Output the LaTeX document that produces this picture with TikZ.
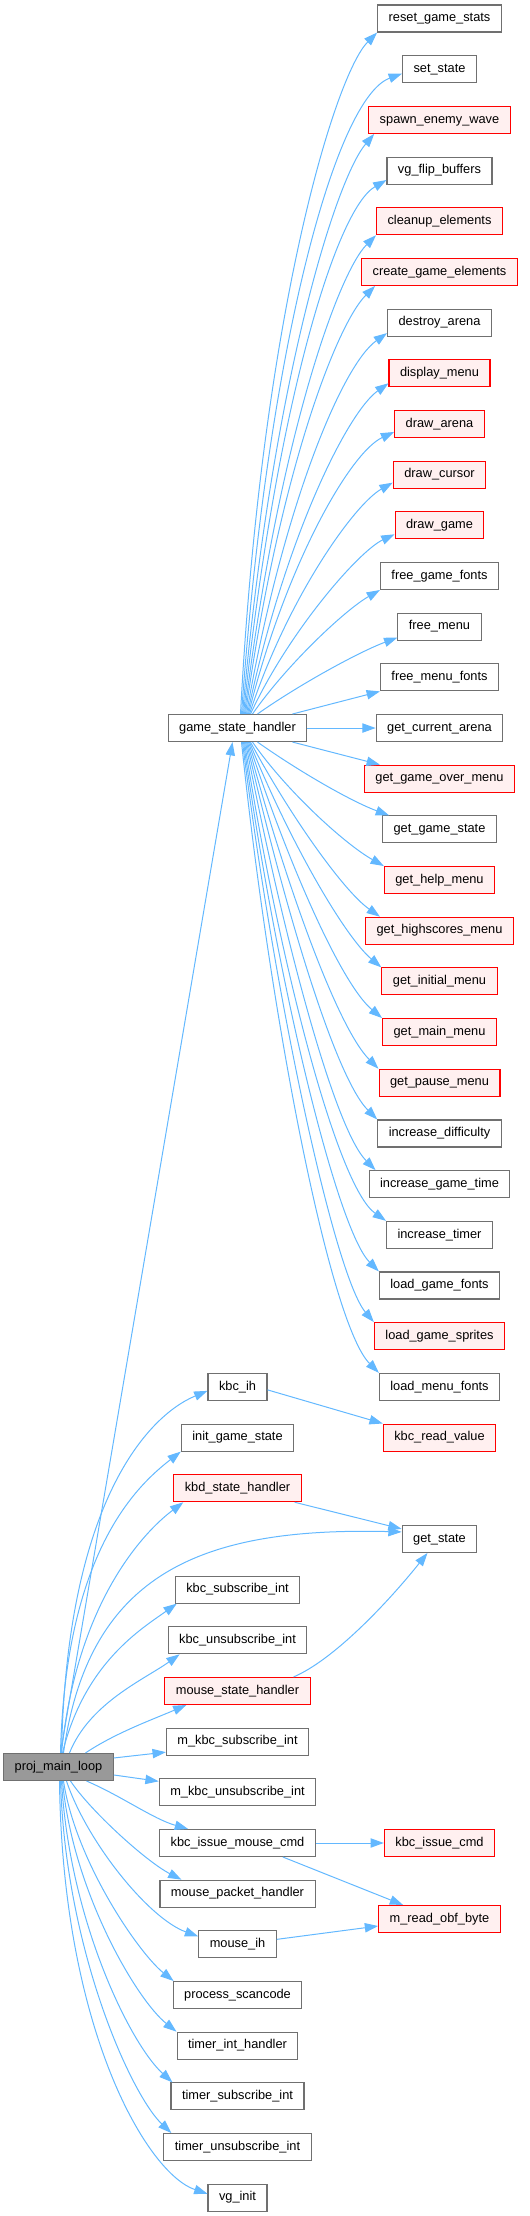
\documentclass[tikz,border=0pt]{standalone}
\usepackage{fontspec}
\setmainfont{Liberation Sans}
\usetikzlibrary{arrows.meta,calc}
\definecolor{edgec}{HTML}{63B8FF}
\definecolor{gborder}{HTML}{707070}
\definecolor{rfill}{HTML}{FFF0F0}
\definecolor{mfill}{HTML}{999999}
\newcommand{\yk}[1]{-18.5-50.68*#1}
\begin{document}
\begin{tikzpicture}[x=0.75pt,y=0.75pt,
  base/.style={rectangle, minimum height=20.25pt, inner xsep=8.25pt, inner ysep=0pt,
    text height=7pt, text depth=2.2pt, font=\fontsize{9.6}{11}\selectfont, line width=0.8pt},
  gbox/.style={base, draw=gborder, fill=white},
  rbox/.style={base, draw=red, fill=rfill},
  mbox/.style={base, draw=gborder, fill=mfill},
  conn/.style={draw=edgec, line width=0.75pt, -{Triangle[length=10pt,width=7pt]}}]
\useasboundingbox (0,0) rectangle (530,-2216);

% right column
\node[gbox] (rgs)  at (439.5,{\yk{0}})  {reset\_game\_stats};
\node[gbox] (ss)   at (439.5,{\yk{1}})  {set\_state};
\node[rbox] (sew)  at (439.5,{\yk{2}})  {spawn\_enemy\_wave};
\node[gbox] (vfb)  at (439.5,{\yk{3}})  {vg\_flip\_buffers};
\node[rbox] (ce)   at (439.5,{\yk{4}})  {cleanup\_elements};
\node[rbox] (cge)  at (439.5,{\yk{5}})  {create\_game\_elements};
\node[gbox] (da)   at (439.5,{\yk{6}})  {destroy\_arena};
\node[rbox] (dm)   at (439.5,{\yk{7}})  {display\_menu};
\node[rbox] (dar)  at (439.5,{\yk{8}})  {draw\_arena};
\node[rbox] (dc)   at (439.5,{\yk{9}})  {draw\_cursor};
\node[rbox] (dg)   at (439.5,{\yk{10}}) {draw\_game};
\node[gbox] (fgf)  at (439.5,{\yk{11}}) {free\_game\_fonts};
\node[gbox] (fm)   at (439.5,{\yk{12}}) {free\_menu};
\node[gbox] (fmf)  at (439.5,{\yk{13}}) {free\_menu\_fonts};
\node[gbox] (gca)  at (439.5,{\yk{14}}) {get\_current\_arena};
\node[rbox] (ggom) at (439.5,{\yk{15}}) {get\_game\_over\_menu};
\node[gbox] (ggs)  at (439.5,{\yk{16}}) {get\_game\_state};
\node[rbox] (ghm)  at (439.5,{\yk{17}}) {get\_help\_menu};
\node[rbox] (ghsm) at (439.5,{\yk{18}}) {get\_highscores\_menu};
\node[rbox] (gim)  at (439.5,{\yk{19}}) {get\_initial\_menu};
\node[rbox] (gmm)  at (439.5,{\yk{20}}) {get\_main\_menu};
\node[rbox] (gpm)  at (439.5,{\yk{21}}) {get\_pause\_menu};
\node[gbox] (id)   at (439.5,{\yk{22}}) {increase\_difficulty};
\node[gbox] (igt)  at (439.5,{\yk{23}}) {increase\_game\_time};
\node[gbox] (it)   at (439.5,{\yk{24}}) {increase\_timer};
\node[gbox] (lgf)  at (439.5,{\yk{25}}) {load\_game\_fonts};
\node[rbox] (lgs)  at (439.5,{\yk{26}}) {load\_game\_sprites};
\node[gbox] (lmf)  at (439.5,{\yk{27}}) {load\_menu\_fonts};
\node[rbox] (krv)  at (439.5,{\yk{28}}) {kbc\_read\_value};
\node[gbox] (gst)  at (439.5,{\yk{30}}) {get\_state};
\node[rbox] (kic)  at (439.5,{\yk{36}}) {kbc\_issue\_cmd};
\node[rbox] (mrob) at (439.5,{\yk{37.5}}) {m\_read\_obf\_byte};

% middle column
\node[gbox] (gsh)  at (237.5,{\yk{14}}) {game\_state\_handler};
\node[gbox] (kih)  at (237.5,{\yk{27}}) {kbc\_ih};
\node[gbox] (igs)  at (237.5,{\yk{28}}) {init\_game\_state};
\node[rbox] (ksh)  at (237.5,{\yk{29}}) {kbd\_state\_handler};
\node[gbox] (ksi)  at (237.5,{\yk{31}}) {kbc\_subscribe\_int};
\node[gbox] (kui)  at (237.5,{\yk{32}}) {kbc\_unsubscribe\_int};
\node[rbox] (msh)  at (237.5,{\yk{33}}) {mouse\_state\_handler};
\node[gbox] (mksi) at (237.5,{\yk{34}}) {m\_kbc\_subscribe\_int};
\node[gbox] (mkui) at (237.5,{\yk{35}}) {m\_kbc\_unsubscribe\_int};
\node[gbox] (kimc) at (237.5,{\yk{36}}) {kbc\_issue\_mouse\_cmd};
\node[gbox] (mph)  at (237.5,{\yk{37}}) {mouse\_packet\_handler};
\node[gbox] (mih)  at (237.5,{\yk{38}}) {mouse\_ih};
\node[gbox] (ps)   at (237.5,{\yk{39}}) {process\_scancode};
\node[gbox] (tih)  at (237.5,{\yk{40}}) {timer\_int\_handler};
\node[gbox] (tsi)  at (237.5,{\yk{41}}) {timer\_subscribe\_int};
\node[gbox] (tui)  at (237.5,{\yk{42}}) {timer\_unsubscribe\_int};
\node[gbox] (vgi)  at (237.5,{\yk{43}}) {vg\_init};

% root
\node[mbox] (pml)  at (58.5,{\yk{34.5}}) {proj\_main\_loop};

% game_state_handler -> upper
\draw[conn] ($(gsh.north)+(3,0)$)  .. controls +(21,400) and +(-42,-42) .. (rgs.south west);
\draw[conn] ($(gsh.north)+(4,0)$)  .. controls +(26,369) and +(-66,-24) .. ($(ss.west)+(0,-4.5)$);
\draw[conn] ($(gsh.north)+(5,0)$)  .. controls +(29,329) and +(-39,-46) .. ($(sew.south west)+(6,0)$);
\draw[conn] ($(gsh.north)+(6,0)$)  .. controls +(31,298) and +(-52,-30) .. ($(vfb.west)+(0,-9.5)$);
\draw[conn] ($(gsh.north)+(7,0)$)  .. controls +(33,268) and +(-39,-39) .. (ce.south west);
\draw[conn] ($(gsh.north)+(8,0)$)  .. controls +(33,238) and +(-39,-39) .. ($(cge.south west)+(14,0)$);
\draw[conn] ($(gsh.north)+(9,0)$)  .. controls +(36,207) and +(-45,-32) .. ($(da.west)+(0,-10.5)$);
\draw[conn] ($(gsh.north)+(10,0)$) .. controls +(37,176) and +(-41,-29) .. ($(dm.west)+(0,-10)$);
\draw[conn] ($(gsh.north)+(11,0)$) .. controls +(36,146) and +(-45,-21) .. ($(dar.west)+(0,-8)$);
\draw[conn] ($(gsh.north)+(12,0)$) .. controls +(37,114) and +(-39,-22) .. ($(dc.west)+(0,-8)$);
\draw[conn] ($(gsh.north)+(13,0)$) .. controls +(38,82) and +(-36,-17) .. ($(dg.west)+(0,-9)$);
\draw[conn] ($(gsh.north)+(15,0)$) .. controls +(34,49) and +(-35,-20) .. (fgf.south west);
\draw[conn] ($(gsh.north)+(20,0)$) .. controls +(41,29) and +(-38,-14) .. ($(fm.west)+(0,-11)$);
\draw[conn] ($(gsh.north)+(55,0)$) -- (fmf.south west);
\draw[conn] (gsh.east) -- (gca.west);
% game_state_handler -> lower
\draw[conn] ($(gsh.south)+(55,0)$) -- ($(ggom.north west)+(16,0)$);
\draw[conn] ($(gsh.south)+(20,0)$) .. controls +(41,-29) and +(-38,14) .. ($(ggs.north west)+(7,0)$);
\draw[conn] ($(gsh.south)+(15,0)$) .. controls +(34,-49) and +(-39,22) .. (ghm.north west);
\draw[conn] ($(gsh.south)+(13,0)$) .. controls +(38,-71) and +(-37,26) .. ($(ghsm.north west)+(15,0)$);
\draw[conn] ($(gsh.south)+(12,0)$) .. controls +(37,-93) and +(-38,32) .. (gim.north west);
\draw[conn] ($(gsh.south)+(11,0)$) .. controls +(37,-114) and +(-42,35) .. (gmm.north west);
\draw[conn] ($(gsh.south)+(10,0)$) .. controls +(36,-135) and +(-42,42) .. (gpm.north west);
\draw[conn] ($(gsh.south)+(9,0)$)  .. controls +(38,-166) and +(-42,42) .. (id.north west);
\draw[conn] ($(gsh.south)+(8,0)$)  .. controls +(36,-187) and +(-42,42) .. ($(igt.north west)+(7,0)$);
\draw[conn] ($(gsh.south)+(7,0)$)  .. controls +(34,-217) and +(-49,34) .. (it.north west);
\draw[conn] ($(gsh.south)+(6,0)$)  .. controls +(33,-238) and +(-42,42) .. (lgf.north west);
\draw[conn] ($(gsh.south)+(5,0)$)  .. controls +(32,-258) and +(-39,46) .. (lgs.north west);
\draw[conn] ($(gsh.south)+(4,0)$)  .. controls +(29,-278) and +(-49,49) .. (lmf.north west);

% kbc_ih -> kbc_read_value
\draw[conn] ($(kih.east)+(0,-3)$) -- (krv.north west);

% proj_main_loop -> upper
\draw[conn] ($(pml.north)+(2,0)$) -- ($(gsh.south)+(-5,0)$);
\draw[conn] ($(pml.north)+(3,0)$) .. controls +(5,250) and +(-60,-25) .. ($(kih.west)+(0,-4)$);
\draw[conn] ($(pml.north)+(2,0)$) .. controls +(5,200) and +(-45,-35) .. (igs.south west);
\draw[conn] ($(pml.north)+(3,0)$) .. controls +(15,150) and +(-40,-30) .. ($(ksh.south west)+(10,0)$);
\draw[conn] ($(pml.north)+(5,0)$) .. controls +(25,180) and +(-200,5) .. ($(gst.west)+(0,7)$);
\draw[conn] ($(pml.north)+(4,0)$) .. controls +(22,90) and +(-35,-25) .. ($(ksi.south west)+(2,0)$);
\draw[conn] ($(pml.north)+(11,0)$) .. controls +(20,50) and +(-35,-25) .. ($(kui.south west)+(12,0)$);
\draw[conn] ($(pml.north)+(27,0)$) .. controls +(30,20) and +(-35,-15) .. ($(msh.south west)+(22,0)$);
\draw[conn] ($(pml.east)+(0,9)$) -- ($(mksi.west)+(0,-10.5)$);
\draw[conn] ($(pml.east)+(0,-8)$) -- ($(mkui.west)+(0,11)$);
% proj_main_loop -> lower
\draw[conn] ($(pml.south)+(28,0)$) .. controls +(35,-15) and +(-35,10) .. ($(kimc.north west)+(29,0)$);
\draw[conn] ($(pml.south)+(12,0)$) .. controls +(20,-30) and +(-35,18) .. ($(mph.north west)+(22,0)$);
\draw[conn] ($(pml.south)+(8,0)$) .. controls +(20,-60) and +(-50,18) .. ($(mih.west)+(0,8)$);
\draw[conn] ($(pml.south)+(5,0)$) .. controls +(12,-80) and +(-35,28) .. ($(ps.north west)+(1,0)$);
\draw[conn] ($(pml.south)+(4,0)$) .. controls +(10,-110) and +(-40,32) .. (tih.north west);
\draw[conn] ($(pml.south)+(3,0)$) .. controls +(8,-140) and +(-42,38) .. ($(tsi.north west)+(2,0)$);
\draw[conn] ($(pml.south)+(2,0)$) .. controls +(5,-170) and +(-40,38) .. ($(tui.north west)+(8,0)$);
\draw[conn] ($(pml.south)+(1,0)$) .. controls +(3,-250) and +(-60,20) .. ($(vgi.west)+(0,4)$);

% others
\draw[conn] ($(ksh.south east)+(-7,0)$) -- ($(gst.west)+(0,10)$);
\draw[conn] ($(msh.north east)+(-17,0)$) .. controls +(40,17) and +(-40,-50) .. ($(gst.south)+(-12,0)$);
\draw[conn] (kimc.east) -- (kic.west);
\draw[conn] ($(kimc.south east)+(-33,0)$) -- ($(mrob.north west)+(25,0)$);
\draw[conn] ($(mih.east)+(0,5)$) -- ($(mrob.west)+(0,-7)$);
\end{tikzpicture}
\end{document}
